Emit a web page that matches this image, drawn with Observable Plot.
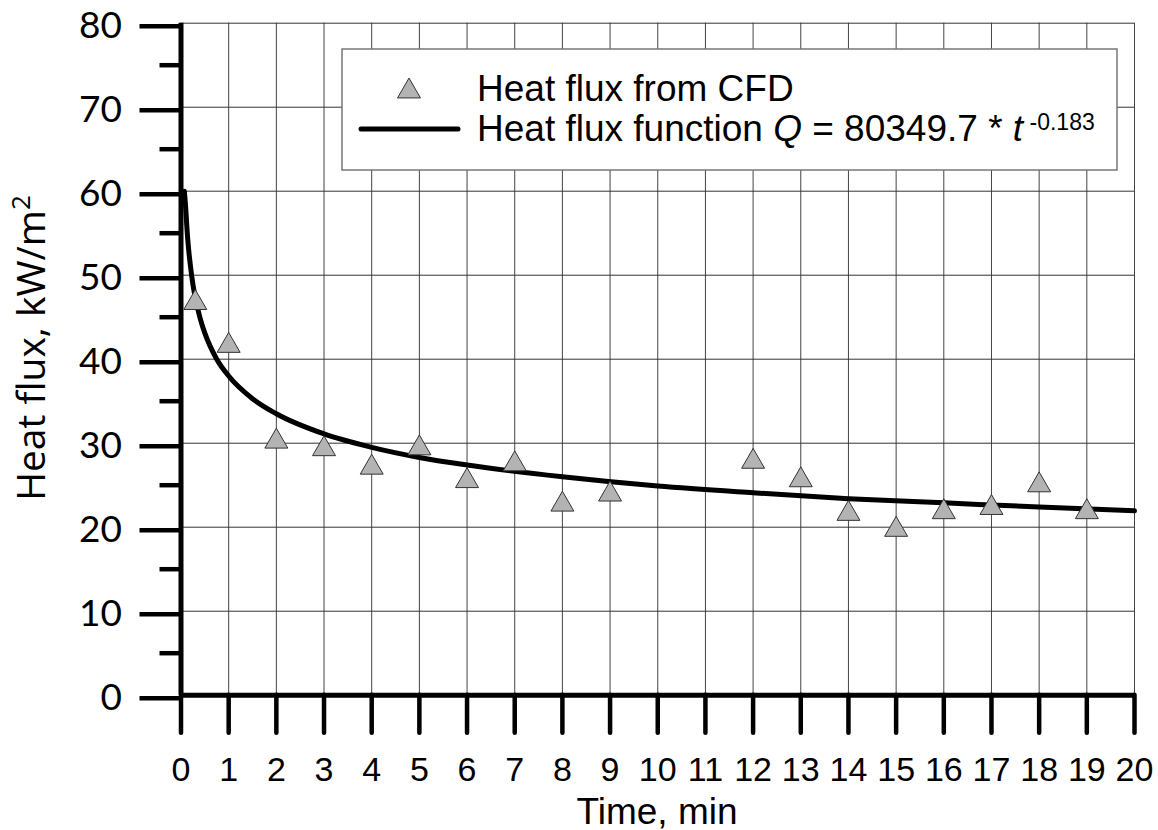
<!DOCTYPE html>
<html><head><meta charset="utf-8">
<script src="https://cdn.jsdelivr.net/npm/d3@7"></script>
<script src="https://cdn.jsdelivr.net/npm/@observablehq/plot@0.6"></script>
<style>
body{margin:0;background:#fff}
#chart{position:relative;width:1158px;height:830px}
</style>
</head><body><div id="chart"></div>
<script>
// CFD heat flux values
const cfdTime = [0.3, 1, 2, 3, 4, 5, 6, 7, 8, 9, 12, 13, 14, 15, 16, 17, 18, 19];
const cfdFlux = [47.1, 42.0, 30.6, 29.7, 27.5, 29.8, 25.9, 27.9, 23.1, 24.3, 28.2, 26.0, 22.0, 20.1, 22.2, 22.7, 25.4, 22.2];
// Fitted heat flux function curve
const fitTime = [0.07, 0.1, 0.12, 0.15, 0.2, 0.25, 0.3, 0.4, 0.5, 0.75, 1, 1.5, 2, 3, 4, 5, 6, 8, 10, 12, 14, 16, 18, 20];
const fitFlux = [60.0, 57.9, 56.0, 53.7, 51.0, 48.9, 47.3, 44.9, 43.1, 40.0, 38.0, 35.3, 33.5, 31.1, 29.5, 28.3, 27.4, 26.0, 24.9, 24.1, 23.4, 22.9, 22.4, 21.95];
// Ticks
const xTicks = [0,1,2,3,4,5,6,7,8,9,10,11,12,13,14,15,16,17,18,19,20];
const yTicks = [0,10,20,30,40,50,60,70,80];
const yMinorTicks = [5,15,25,35,45,55,65,75];

const cfd = cfdTime.map((t,i)=>({t, q: cfdFlux[i]}));
const fit = fitTime.map((t,i)=>({t, q: fitFlux[i]}));

const triangle = {
  draw(ctx, size) {
    const r = Math.sqrt(size/Math.PI);
    const h = r*1.17, w = r*1.35;
    ctx.moveTo(0,-h); ctx.lineTo(w,h); ctx.lineTo(-w,h); ctx.closePath();
  }
};

const W = 1158, H = 830;
const mL = 180.5, mR = 24, mT = 22.7, mB = 135.3;

const plot = Plot.plot({
  width: W, height: H,
  marginLeft: mL, marginRight: mR, marginTop: mT, marginBottom: mB,
  style: {background: "#fff", overflow: "visible"},
  x: {domain: [0, 20], axis: null},
  y: {domain: [0, 80], axis: null},
  marks: [
    Plot.ruleX(xTicks, {stroke: "#444", strokeWidth: 1}),
    Plot.ruleY(yTicks, {stroke: "#333", strokeWidth: 1}),
    Plot.axisY(yMinorTicks, {tickSize: 21, strokeWidth: 4.5, tickFormat: () => "", label: null}),
    Plot.axisY(yTicks, {tickSize: 41, strokeWidth: 4.5, tickPadding: 18, fontSize: 38, fontFamily: "Lato", label: null, fill: "#000", dy: 3}),
    Plot.axisX(xTicks, {tickSize: 38, strokeWidth: 4.5, strokeLinecap: "round", tickPadding: 24, fontSize: 34, fontFamily: "Liberation Sans", label: null, fill: "#000"}),
    Plot.ruleX([0], {strokeWidth: 5, stroke: "#000"}),
    Plot.ruleY([0], {x1: 0, x2: 20, strokeWidth: 5, stroke: "#000"}),
    Plot.line(fit, {x: "t", y: "q", stroke: "#000", strokeWidth: 5, curve: "monotone-x"}),
    Plot.dot(cfd, {x: "t", y: "q", symbol: triangle, r: 8.5, fill: "#b3b3b3", stroke: "#333", strokeWidth: 1})
  ]
});

const svg = d3.select(plot);
svg.selectAll('[aria-label="y-axis tick label"] text, [aria-label="y-axis tick label"]').attr("font-family", "Lato").attr("font-size", 37);
svg.selectAll('[aria-label="x-axis tick label"] text, [aria-label="x-axis tick label"]').attr("font-family", "Liberation Sans").attr("font-size", 34);

// Axis titles
svg.append("text")
  .attr("transform", "translate(45,348) rotate(-90)")
  .attr("text-anchor", "middle")
  .attr("font-family", "Open Sans").attr("font-size", 39).attr("fill", "#000")
  .call(t => { t.append("tspan").text("Heat flux, kW/m"); t.append("tspan").attr("font-size", 26).attr("dy", -15).text("2"); });

svg.append("text")
  .attr("x", 657).attr("y", 824)
  .attr("text-anchor", "middle")
  .attr("font-family", "Liberation Sans").attr("font-size", 37).attr("fill", "#000")
  .text("Time, min");

// Legend
const lg = svg.append("g").attr("font-family", "Liberation Sans").attr("fill", "#000").attr("text-anchor", "start");
lg.append("rect").attr("x", 342).attr("y", 49).attr("width", 775).attr("height", 121)
  .attr("fill", "#fff").attr("stroke", "#777").attr("stroke-width", 1.5);
const r = 8.5, h = r*1.17, w = r*1.35;
lg.append("path").attr("d", `M409,${88-h}L${409+w},${88+h}L${409-w},${88+h}Z`)
  .attr("fill", "#b3b3b3").attr("stroke", "#333").attr("stroke-width", 1);
lg.append("line").attr("x1", 361).attr("x2", 458).attr("y1", 129).attr("y2", 129)
  .attr("stroke", "#000").attr("stroke-width", 5).attr("stroke-linecap", "round");
lg.append("text").attr("x", 477).attr("y", 101).attr("font-size", 37).text("Heat flux from CFD");
const t2 = lg.append("text").attr("x", 477).attr("y", 141).attr("font-size", 37);
t2.append("tspan").text("Heat flux function ");
t2.append("tspan").attr("font-style", "italic").text("Q");
t2.append("tspan").text(" = 80349.7 * ");
t2.append("tspan").attr("font-style", "italic").text("t");
t2.append("tspan").attr("font-size", 23).attr("dy", -11).text(" -0.183");

document.getElementById("chart").appendChild(plot);
</script>
</body></html>
